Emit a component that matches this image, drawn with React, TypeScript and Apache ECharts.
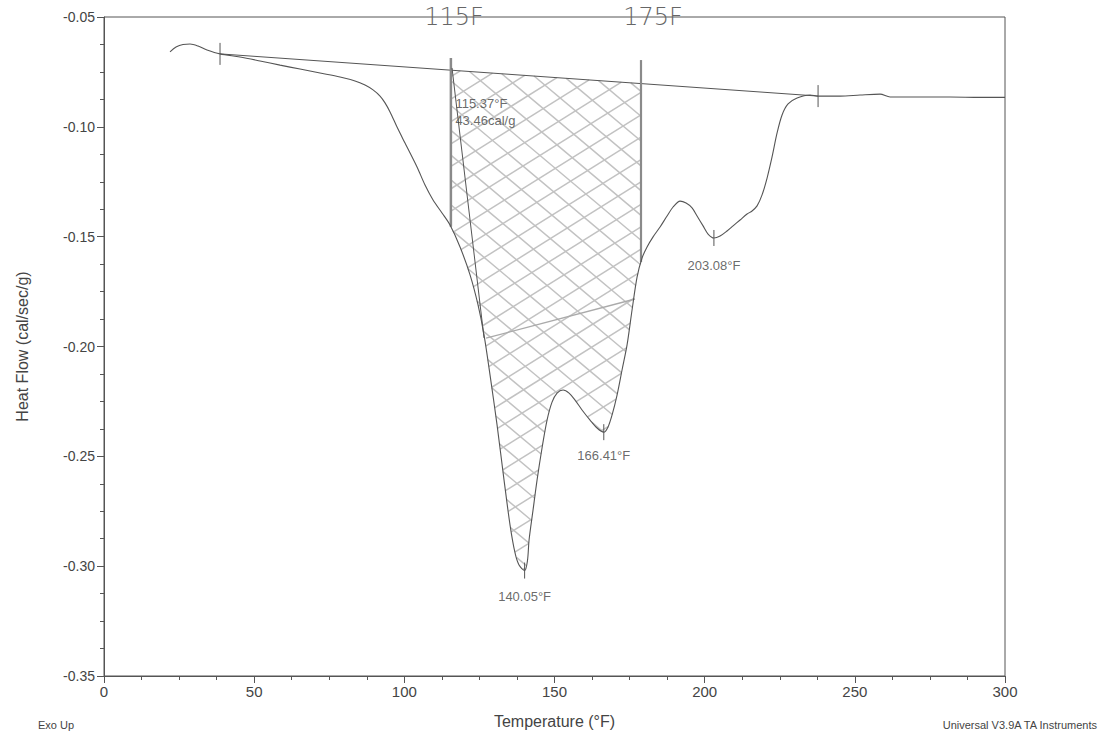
import React, { useEffect, useRef } from "react";
import * as echarts from "echarts";

// Main DSC curve (Temperature °F, Heat Flow cal/sec/g)
const curveX = [
  21.98, 23.98, 26.31, 28.64, 31.3, 34.3, 38.63, 45.29, 51.95, 58.61, 65.27, 71.93, 78.59, 83.58, 86.91,
  89.58, 91.91, 93.57, 95.24, 97.57, 100.23, 104.23, 106.89, 109.56, 112.55, 115.22, 118.55, 121.88,
  124.54, 126.54, 128.54, 130.87, 133.2, 135.2, 136.86, 138.19, 140.05, 141.0, 141.53, 142.86, 144.19,
  145.85, 147.52, 149.18, 150.85, 152.85, 154.85, 156.84, 159.17, 161.84, 164.17, 166.41, 167.83,
  169.16, 170.83, 172.49, 174.16, 175.82, 177.49, 179.15, 180.82, 182.82, 185.15, 187.48, 189.48,
  191.81, 193.81, 195.8, 197.47, 199.47, 201.13, 203.08, 205.13, 207.46, 209.46, 211.79, 214.12,
  215.78, 217.45, 219.11, 220.78, 222.44, 224.11, 225.77, 227.77, 230.77, 235.1, 237.76, 245.09,
  251.75, 258.41, 261.74, 271.73, 281.72, 291.71, 300.0,
];
const curveY = [
  -0.0659, -0.0637, -0.0625, -0.0623, -0.0632, -0.065, -0.0668, -0.0682, -0.07, -0.0719, -0.0737,
  -0.0755, -0.0773, -0.0791, -0.081, -0.0832, -0.086, -0.0891, -0.0932, -0.1001, -0.1074, -0.1183,
  -0.1265, -0.1333, -0.1392, -0.1447, -0.1547, -0.1674, -0.1811, -0.1948, -0.213, -0.2357, -0.2608,
  -0.2813, -0.294, -0.2995, -0.302, -0.2975, -0.2881, -0.2744, -0.2608, -0.2462, -0.2335, -0.2253,
  -0.2212, -0.2198, -0.2212, -0.2244, -0.2289, -0.2335, -0.2371, -0.239, -0.2366, -0.2312, -0.2221,
  -0.2107, -0.1993, -0.1834, -0.1684, -0.1597, -0.1547, -0.1501, -0.1456, -0.1406, -0.1365, -0.1338,
  -0.1347, -0.1369, -0.1406, -0.1451, -0.1488, -0.1506, -0.1497, -0.1474, -0.1451, -0.1424, -0.1397,
  -0.1383, -0.136, -0.131, -0.1233, -0.1137, -0.1028, -0.0946, -0.0896, -0.0869, -0.0855, -0.086,
  -0.086, -0.0855, -0.0851, -0.0864, -0.0864, -0.0864, -0.0866, -0.0866,
];

// Integration baseline
const baselineX = [38.63, 237.76];
const baselineY = [-0.0668, -0.086];

// Hand-drawn integration limits
const limitX = [115.5, 178.8];
const limitTopY = [-0.0687, -0.0696];
const limitLabels = ["115F", "175F"];

// Onset tangent & inner line
const tangentX = [115.88, 126.54];
const tangentY = [-0.0732, -0.1961];
const innerX = [127.2, 176.8];
const innerY = [-0.1962, -0.1784];

// Peak markers
const peakX = [140.05, 166.41, 203.08];
const peakY = [-0.302, -0.239, -0.1506];
const peakLabels = ["140.05°F", "166.41°F", "203.08°F"];
const endTickX = [38.63, 237.76];
const endTickY = [-0.0668, -0.086];

// Integration result
const integX = 117.0;
const integY = -0.0932;
const integLabels = ["115.37°F", "43.46cal/g"];

const FONT = "Liberation Sans";
const INK = "#555";

function curveAt(x: number): number {
  for (let i = 0; i < curveX.length - 1; i++) {
    if (x >= curveX[i] && x <= curveX[i + 1]) {
      const f = (x - curveX[i]) / (curveX[i + 1] - curveX[i]);
      return curveY[i] + f * (curveY[i + 1] - curveY[i]);
    }
  }
  return curveY[curveY.length - 1];
}
function baseAt(x: number): number {
  const f = (x - baselineX[0]) / (baselineX[1] - baselineX[0]);
  return baselineY[0] + f * (baselineY[1] - baselineY[0]);
}

function hatchPolygon(): number[][] {
  const [xl, xr] = limitX;
  const poly: number[][] = [[xl, baseAt(xl)], [xr, baseAt(xr)], [xr, curveAt(xr)]];
  for (let i = curveX.length - 1; i >= 0; i--) {
    if (curveX[i] > xl && curveX[i] < xr) poly.push([curveX[i], curveY[i]]);
  }
  poly.push([xl, curveAt(xl)]);
  return poly;
}

export default function App() {
  const ref = useRef<HTMLDivElement>(null);
  useEffect(() => {
    if (!ref.current) return;
    const chart = echarts.init(ref.current, undefined, { renderer: "svg" });
    const poly = hatchPolygon();
    const lineStyle = { color: INK, width: 1 };
    const seg = (xs: number[], ys: number[], style: any, name: string) => ({
      type: "line",
      name,
      data: xs.map((x, i) => [x, ys[i]]),
      showSymbol: false,
      symbol: "none",
      lineStyle: style,
      silent: true,
      z: 3,
    });

    const option: any = {
      animation: false,
      backgroundColor: "#fff",
      grid: { left: 104, right: 98, top: 17, bottom: 60, show: true, borderColor: INK, borderWidth: 1 },
      xAxis: {
        type: "value",
        min: 0,
        max: 300,
        interval: 50,
        name: "Temperature (°F)",
        nameLocation: "middle",
        nameGap: 37,
        nameTextStyle: { fontFamily: FONT, fontSize: 16, color: "#444" },
        axisLine: { lineStyle: { color: INK } },
        axisTick: { show: true, inside: false, length: 7, lineStyle: { color: INK } },
        minorTick: { show: true, splitNumber: 4, length: 4, lineStyle: { color: INK } },
        axisLabel: { fontFamily: FONT, fontSize: 15, color: "#444", margin: 8 },
        splitLine: { show: false },
      },
      yAxis: {
        type: "value",
        min: -0.35,
        max: -0.05,
        interval: 0.05,
        name: "Heat Flow (cal/sec/g)",
        nameLocation: "middle",
        nameGap: 74,
        nameTextStyle: { fontFamily: FONT, fontSize: 16, color: "#444" },
        axisLine: { lineStyle: { color: INK } },
        axisTick: { show: true, inside: false, length: 7, lineStyle: { color: INK } },
        minorTick: { show: true, splitNumber: 4, length: 4, lineStyle: { color: INK } },
        axisLabel: {
          fontFamily: FONT,
          fontSize: 14,
          color: "#444",
          margin: 9,
          formatter: (v: number) => v.toFixed(2),
        },
        splitLine: { show: false },
      },
      series: [
        {
          type: "custom",
          name: "hatch",
          silent: true,
          z: 1,
          data: [[limitX[0], baseAt(limitX[0])]],
          encode: { x: 0, y: 1 },
          renderItem: (_params: any, api: any) => {
            const pts = poly.map((p) => api.coord(p));
            const children: any[] = [];
            const families = [
              { angle: 40, spacing: 19 },
              { angle: -32, spacing: 19 },
            ];
            for (const fam of families) {
              const a = (fam.angle * Math.PI) / 180;
              const d = [Math.cos(a), Math.sin(a)];
              const n = [-Math.sin(a), Math.cos(a)];
              const ts = pts.map((p: number[]) => p[0] * n[0] + p[1] * n[1]);
              const tmin = Math.min(...ts);
              const tmax = Math.max(...ts);
              for (let t = Math.ceil(tmin / fam.spacing) * fam.spacing; t <= tmax; t += fam.spacing) {
                const us: number[] = [];
                for (let i = 0; i < pts.length; i++) {
                  const p1 = pts[i];
                  const p2 = pts[(i + 1) % pts.length];
                  const t1 = ts[i];
                  const t2 = ts[(i + 1) % pts.length];
                  if ((t1 <= t && t < t2) || (t2 <= t && t < t1)) {
                    const f = (t - t1) / (t2 - t1);
                    const x = p1[0] + f * (p2[0] - p1[0]);
                    const y = p1[1] + f * (p2[1] - p1[1]);
                    us.push(x * d[0] + y * d[1]);
                  }
                }
                us.sort((a1, b1) => a1 - b1);
                for (let k = 0; k + 1 < us.length; k += 2) {
                  children.push({
                    type: "line",
                    shape: {
                      x1: t * n[0] + us[k] * d[0],
                      y1: t * n[1] + us[k] * d[1],
                      x2: t * n[0] + us[k + 1] * d[0],
                      y2: t * n[1] + us[k + 1] * d[1],
                    },
                    style: { stroke: "#c2c2c2", lineWidth: 1.5 },
                  });
                }
              }
            }
            return { type: "group", children };
          },
        },
        {
          type: "line",
          name: "Heat Flow",
          data: curveX.map((x, i) => [x, curveY[i]]),
          showSymbol: false,
          symbol: "none",
          smooth: 0.3,
          lineStyle: { color: INK, width: 1.1 },
          silent: true,
          z: 4,
        },
        seg(baselineX, baselineY, lineStyle, "baseline"),
        seg([limitX[0], limitX[0]], [limitTopY[0], curveAt(limitX[0])], { color: "#8a8a8a", width: 2.5 }, "limitL"),
        seg([limitX[1], limitX[1]], [limitTopY[1], curveAt(limitX[1])], { color: "#8a8a8a", width: 2.2 }, "limitR"),
        seg(tangentX, tangentY, { color: INK, width: 1 }, "tangent"),
        seg(innerX, innerY, { color: "#aaa", width: 1.4 }, "inner"),
        {
          type: "custom",
          name: "ticks",
          silent: true,
          z: 5,
          data: [
            ...peakX.map((x, i) => [x, peakY[i], 8]),
            ...endTickX.map((x, i) => [x, endTickY[i], 11]),
          ],
          encode: { x: 0, y: 1 },
          renderItem: (_p: any, api: any) => {
            const c = api.coord([api.value(0), api.value(1)]);
            const h = api.value(2);
            return {
              type: "line",
              shape: { x1: c[0], y1: c[1] - h, x2: c[0], y2: c[1] + h },
              style: { stroke: INK, lineWidth: 1 },
            };
          },
        },
        {
          type: "scatter",
          name: "peakLabels",
          silent: true,
          symbolSize: 0,
          z: 6,
          data: peakX.map((x, i) => ({
            value: [x, peakY[i]],
            label: {
              show: true,
              position: "bottom",
              distance: [19, 17, 21][i],
              formatter: peakLabels[i],
              fontFamily: FONT,
              fontSize: 13,
              color: "#444",
            },
          })),
        },
        {
          type: "scatter",
          name: "integration",
          silent: true,
          symbolSize: 0,
          z: 6,
          data: [
            {
              value: [integX, integY],
              label: {
                show: true,
                position: "right",
                distance: 0,
                formatter: integLabels.join("\n"),
                fontFamily: FONT,
                fontSize: 13,
                lineHeight: 17,
                color: "#444",
                align: "left",
              },
            },
          ],
        },
      ],
      graphic: [
        ...limitLabels.map((t, i) => ({
          type: "text",
          x: [454, 653][i],
          y: 17,
          style: {
            text: t,
            fontFamily: "DejaVu Sans",
            fontSize: 24,
            fontWeight: "lighter",
            fill: "#666",
            align: "center",
            verticalAlign: "middle",
          },
        })),
        {
          type: "text",
          x: 38,
          y: 725,
          style: { text: "Exo Up", fontFamily: FONT, fontSize: 11, fill: "#444", align: "left", verticalAlign: "middle" },
        },
        {
          type: "text",
          x: 1097,
          y: 725,
          style: {
            text: "Universal V3.9A TA Instruments",
            fontFamily: FONT,
            fontSize: 11,
            fill: "#444",
            align: "right",
            verticalAlign: "middle",
          },
        },
      ],
    };
    chart.setOption(option);
    return () => chart.dispose();
  }, []);
  return (
    <div
      ref={ref}
      style={{ position: "fixed", left: 0, top: 0, width: 1103, height: 736, background: "#fff" }}
    />
  );
}
